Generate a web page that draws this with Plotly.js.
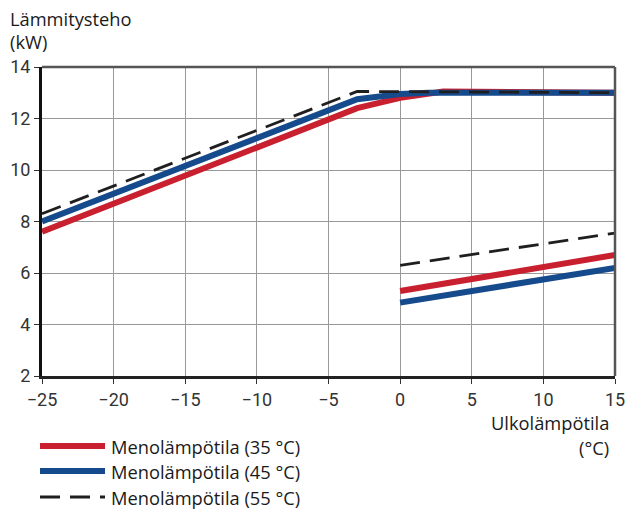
<!DOCTYPE html>
<html>
<head>
<meta charset="utf-8">
<script src="https://cdn.plot.ly/plotly-3.0.1.min.js"></script>
<style>html,body{margin:0;padding:0;background:#fff;}#chart{width:634px;height:516px;}</style>
</head>
<body>
<div id="chart"></div>
<script>
// Outdoor temperature (°C) and heating power (kW); null splits the two segments
const seriesNames = ["Menolämpötila (35 °C)", "Menolämpötila (45 °C)", "Menolämpötila (55 °C)"];
const x35 = [-25, -3, 0, 3, 15, null, 0, 15];
const y35 = [7.6, 12.4, 12.8, 13.05, 13.0, null, 5.3, 6.7];
const x45 = [-25, -3, 0, 2, 15, null, 0, 15];
const y45 = [8.0, 12.75, 12.95, 13.0, 13.0, null, 4.85, 6.2];
const x55 = [-25, -3, 15, null, 0, 15];
const y55 = [8.3, 13.05, 13.0, null, 6.3, 7.55];
const xTicks = [-25, -20, -15, -10, -5, 0, 5, 10, 15];
const yTicks = [2, 4, 6, 8, 10, 12, 14];
const yTitle = ["Lämmitysteho", "(kW)"];
const xTitle = ["Ulkolämpötila", "(°C)"];

const colors = ["#c8202f", "#154a8c", "#1f1f1f"];
const font = "Roboto, 'Open Sans', sans-serif";
const tfont = "'Open Sans', Roboto, sans-serif";

const traces = [
  {x: x35, y: y35, name: seriesNames[0], mode: "lines", connectgaps: false,
   line: {color: colors[0], width: 6}},
  {x: x45, y: y45, name: seriesNames[1], mode: "lines", connectgaps: false,
   line: {color: colors[1], width: 6}},
  {x: x55, y: y55, name: seriesNames[2], mode: "lines", connectgaps: false,
   line: {color: colors[2], width: 2.8, dash: "20px,10px"}}
];

// Manual legend (shapes + annotations) in pixel-like paper coords
const W = 634, H = 516, ml = 42, mr = 19, mt = 67, mb = 140;
const pw = W - ml - mr, ph = H - mt - mb;
const px = v => (v - ml) / pw;
const py = v => (H - mb - v) / ph;

const shapes = [];
const annotations = [];
const legendY = [446, 471, 497];
const tsize = 18.3;
seriesNames.forEach((n, i) => {
  shapes.push({type: "line", xref: "paper", yref: "paper",
    x0: px(40), x1: px(105), y0: py(legendY[i]), y1: py(legendY[i]),
    line: {color: colors[i], width: i < 2 ? 6 : 2.8, dash: i < 2 ? "solid" : "20px,10px"}});
  annotations.push({xref: "paper", yref: "paper", x: px(109), y: py(legendY[i]),
    xanchor: "left", yanchor: "middle", showarrow: false, text: n,
    font: {family: tfont, size: tsize, color: "#1a1a1a"}});
});
// Axis titles
annotations.push({xref: "paper", yref: "paper", x: px(8), y: py(18), xanchor: "left", yanchor: "middle",
  showarrow: false, text: yTitle[0], font: {family: tfont, size: tsize, color: "#1a1a1a"}});
annotations.push({xref: "paper", yref: "paper", x: px(8), y: py(42), xanchor: "left", yanchor: "middle",
  showarrow: false, text: yTitle[1], font: {family: tfont, size: tsize, color: "#1a1a1a"}});
annotations.push({xref: "paper", yref: "paper", x: px(611), y: py(422), xanchor: "right", yanchor: "middle",
  showarrow: false, text: xTitle[0], font: {family: tfont, size: tsize, color: "#1a1a1a"}});
annotations.push({xref: "paper", yref: "paper", x: px(611), y: py(447), xanchor: "right", yanchor: "middle",
  showarrow: false, text: xTitle[1], font: {family: tfont, size: tsize, color: "#1a1a1a"}});

// Frame: top & right gray, left & bottom darker
shapes.push({type: "line", xref: "paper", yref: "paper", x0: 0, x1: 1, y0: 1, y1: 1, line: {color: "#555", width: 2.5}, layer: "above"});
shapes.push({type: "line", xref: "paper", yref: "paper", x0: 1, x1: 1, y0: 0, y1: 1, line: {color: "#555", width: 2.5}, layer: "above"});

const layout = {
  width: W, height: H,
  margin: {l: ml, r: mr, t: mt, b: mb},
  paper_bgcolor: "#fff", plot_bgcolor: "#fff",
  showlegend: false,
  font: {family: font, color: "#333"},
  xaxis: {range: [-25, 15], tickvals: xTicks, ticks: "outside", ticklen: 5, tickcolor: "#333",
    showgrid: true, gridcolor: "#999", gridwidth: 1, zeroline: false,
    showline: true, linecolor: "#222", linewidth: 3,
    tickfont: {family: font, size: 18, color: "#333"}, fixedrange: true},
  yaxis: {range: [2, 14], tickvals: yTicks, ticks: "outside", ticklen: 5, tickcolor: "#333",
    showgrid: true, gridcolor: "#999", gridwidth: 1, zeroline: false,
    showline: true, linecolor: "#111", linewidth: 3,
    tickfont: {family: font, size: 18, color: "#333"}, fixedrange: true},
  shapes: shapes,
  annotations: annotations
};

Plotly.newPlot("chart", traces, layout, {displayModeBar: false, staticPlot: true});
</script>
</body>
</html>
